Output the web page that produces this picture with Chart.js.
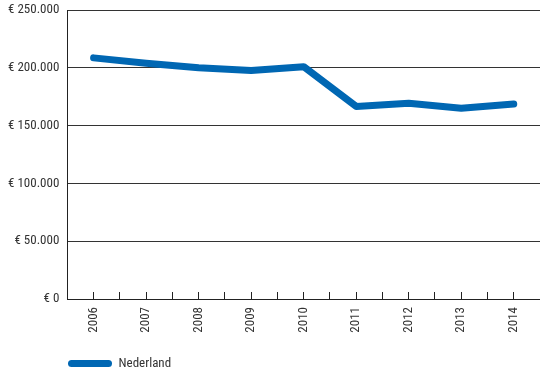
<!DOCTYPE html>
<html>
<head>
<meta charset="utf-8">
<script src="https://cdn.jsdelivr.net/npm/chart.js@4/dist/chart.umd.min.js"></script>
<style>
  html, body { margin: 0; padding: 0; background: #fff; }
  #wrap { width: 540px; height: 373px; }
</style>
</head>
<body>
<div id="wrap"><canvas id="chart"></canvas></div>
<script>
// Gegevens
const years = ['2006', '2007', '2008', '2009', '2010', '2011', '2012', '2013', '2014'];
const nederland = [208600, 204000, 200000, 197700, 201000, 166600, 169300, 165000, 168700];
const yTicks = [0, 50000, 100000, 150000, 200000, 250000];

const fontFamily = '"Liberation Sans Narrow", "Roboto Condensed", Roboto, sans-serif';
Chart.defaults.font.family = fontFamily;
Chart.defaults.font.size = 13;
Chart.defaults.color = '#333';

function euro(v) {
    if (v === 0) return '€ 0';
    return '€ ' + v.toLocaleString('de-DE');
}

// legenda verschuiven (naar rechts en omlaag)
const legendShift = {
    id: 'legendShift',
    afterLayout(chart) {
        chart.legend.left = 63;
        chart.legend.top += 7;
        chart.legend.bottom += 7;
    }
};

new Chart(document.getElementById('chart'), {
    type: 'line',
    data: {
        datasets: [{
            label: 'Nederland',
            data: nederland.map((v, i) => ({ x: i, y: v })),
            borderColor: '#0067b3',
            backgroundColor: '#0067b3',
            borderWidth: 7,
            borderCapStyle: 'round',
            borderJoinStyle: 'round',
            pointRadius: 0,
            tension: 0
        }]
    },
    options: {
        responsive: true,
        maintainAspectRatio: false,
        animation: false,
        layout: { padding: { top: 10, right: 0, left: 0, bottom: 0 } },
        scales: {
            x: {
                type: 'linear',
                min: -0.5,
                max: 8.5,
                afterBuildTicks(axis) {
                    const t = [];
                    for (let i = 0; i <= 18; i++) t.push({ value: -0.5 + i * 0.5 });
                    axis.ticks = t;
                },
                afterFit(axis) {
                    axis.paddingLeft = 0;
                    axis.paddingRight = 0;
                    axis.height = 46;
                },
                ticks: {
                    autoSkip: false,
                    minRotation: 90,
                    maxRotation: 90,
                    padding: 15,
                    callback: v => Number.isInteger(v) ? years[v] : ''
                },
                grid: {
                    drawOnChartArea: false,
                    tickLength: -7,
                    color: '#222',
                    lineWidth: ctx => (ctx.tick && (ctx.tick.value === -0.5 || ctx.tick.value === 8.5)) ? 0 : 1
                },
                border: { color: '#222', width: 1 }
            },
            y: {
                min: 0,
                max: 250000,
                afterBuildTicks(axis) {
                    axis.ticks = yTicks.map(v => ({ value: v }));
                },
                afterFit(axis) {
                    axis.paddingTop = 0;
                    axis.paddingBottom = 0;
                },
                ticks: {
                    padding: 8,
                    callback: v => euro(v)
                },
                grid: {
                    drawTicks: false,
                    color: '#333',
                    lineWidth: 1
                },
                border: { color: '#222', width: 1 }
            }
        },
        plugins: {
            legend: {
                position: 'bottom',
                align: 'start',
                labels: {
                    boxWidth: 44,
                    boxHeight: 7,
                    useBorderRadius: true,
                    borderRadius: 3.5,
                    padding: 5,
                    color: '#333',
                    font: { size: 13 },
                    generateLabels: chart => Chart.defaults.plugins.legend.labels.generateLabels(chart)
                        .map(l => ({ ...l, lineWidth: 0 }))
                }
            },
            tooltip: { enabled: false }
        }
    },
    plugins: [legendShift]
});
</script>
</body>
</html>
